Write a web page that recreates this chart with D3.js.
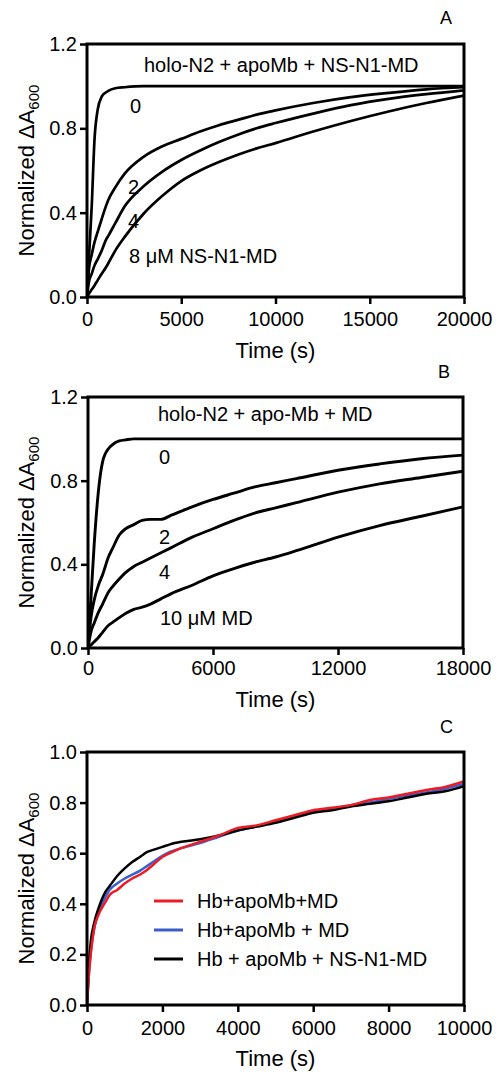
<!DOCTYPE html>
<html>
<head>
<meta charset="utf-8">
<script src="https://cdn.jsdelivr.net/npm/d3@7"></script>
<style>
  html, body { margin: 0; padding: 0; background: #fff; }
  svg { display: block; }
  text { font-family: "Liberation Sans", Arial, sans-serif; fill: #000; }
</style>
</head>
<body>
<svg id="chart" width="496" height="1073"></svg>
<script>
// ---- Panel A: holo-N2 + apoMb + NS-N1-MD (time in s, normalized dA600)
const timesA = [0, 100, 250, 400, 570, 780, 1000, 1130, 1500, 2000, 3000, 4000, 5000,
                6000, 7000, 8000, 9000, 10000, 12000, 14000, 16000, 18000, 20000];
const a0 = [0, 0.18, 0.43, 0.75, 0.89, 0.95, 0.97, 0.978, 0.99, 0.995, 1, 1, 1,
            1, 1, 1, 1, 1, 1, 1, 1, 1, 1];
const a2 = [0, 0.13, 0.2, 0.26, 0.31, 0.37, 0.43, 0.46, 0.52, 0.585, 0.665, 0.715, 0.75,
            0.785, 0.815, 0.84, 0.865, 0.885, 0.92, 0.948, 0.968, 0.985, 0.995];
const a4 = [0, 0.07, 0.11, 0.15, 0.18, 0.22, 0.27, 0.29, 0.35, 0.43, 0.525, 0.595, 0.65,
            0.695, 0.735, 0.77, 0.8, 0.825, 0.87, 0.91, 0.94, 0.962, 0.98];
const a8 = [0, 0.015, 0.035, 0.055, 0.08, 0.11, 0.14, 0.16, 0.22, 0.285, 0.395, 0.48, 0.55,
            0.6, 0.64, 0.675, 0.705, 0.73, 0.785, 0.835, 0.88, 0.92, 0.955];
const ticksXA = [0, 5000, 10000, 15000, 20000];
const ticksYA = [0, 0.4, 0.8, 1.2];

// ---- Panel B: holo-N2 + apo-Mb + MD
const timesB = [0, 150, 300, 500, 700, 1000, 1150, 1500, 1800, 2200, 2600, 3000, 3500,
                4000, 5000, 6000, 7000, 8000, 9000, 10000, 12000, 14000, 16000, 18000];
const b0 = [0, 0.25, 0.5, 0.75, 0.89, 0.955, 0.97, 0.99, 0.995, 1, 1, 1, 1,
            1, 1, 1, 1, 1, 1, 1, 1, 1, 1, 1];
const b2 = [0, 0.15, 0.23, 0.3, 0.35, 0.44, 0.47, 0.54, 0.57, 0.59, 0.61, 0.615, 0.615,
            0.635, 0.675, 0.71, 0.74, 0.77, 0.79, 0.81, 0.85, 0.88, 0.905, 0.922];
const b4 = [0, 0.08, 0.12, 0.17, 0.21, 0.27, 0.29, 0.33, 0.36, 0.39, 0.41, 0.43, 0.455,
            0.48, 0.53, 0.57, 0.61, 0.645, 0.67, 0.695, 0.745, 0.785, 0.815, 0.845];
const b10 = [0, 0.015, 0.03, 0.05, 0.075, 0.11, 0.12, 0.145, 0.165, 0.185, 0.195, 0.21, 0.235,
             0.26, 0.3, 0.345, 0.38, 0.41, 0.435, 0.465, 0.53, 0.585, 0.63, 0.675];
const ticksXB = [0, 6000, 12000, 18000];
const ticksYB = [0, 0.4, 0.8, 1.2];

// ---- Panel C: Hb + apoMb comparisons
const timesC = [0, 50, 100, 200, 300, 400, 500, 600, 800, 1000, 1200, 1400, 1600, 1800, 2000,
                2200, 2500, 3000, 3500, 4000, 4500, 5000, 5500, 6000, 6500, 7000, 7500,
                8000, 8500, 9000, 9500, 10000];
const cRed = [0, 0.12, 0.2, 0.31, 0.355, 0.385, 0.41, 0.435, 0.455, 0.48, 0.5, 0.515, 0.535,
              0.56, 0.585, 0.6, 0.62, 0.645, 0.67, 0.7, 0.71, 0.73, 0.75, 0.77, 0.78, 0.79,
              0.81, 0.82, 0.835, 0.85, 0.862, 0.885];
const cBlue = [0, 0.12, 0.21, 0.31, 0.36, 0.4, 0.43, 0.455, 0.48, 0.5, 0.515, 0.53, 0.55,
               0.57, 0.59, 0.605, 0.62, 0.64, 0.665, 0.69, 0.705, 0.725, 0.745, 0.765, 0.775,
               0.79, 0.8, 0.815, 0.828, 0.84, 0.855, 0.875];
const cBlack = [0, 0.16, 0.25, 0.33, 0.38, 0.42, 0.45, 0.47, 0.51, 0.54, 0.565, 0.585, 0.605,
                0.615, 0.625, 0.635, 0.645, 0.655, 0.67, 0.69, 0.705, 0.72, 0.74, 0.76, 0.77,
                0.785, 0.795, 0.805, 0.82, 0.835, 0.845, 0.865];
const legendC = ["Hb+apoMb+MD", "Hb+apoMb + MD", "Hb + apoMb + NS-N1-MD"];
const coloursC = ["#ed1c24", "#3a5fcd", "#000000"];
const ticksXC = [0, 2000, 4000, 6000, 8000, 10000];
const ticksYC = [0, 0.2, 0.4, 0.6, 0.8, 1.0];

const svg = d3.select('#chart');

function zip(ts, vs) { return ts.map((t, i) => [t, vs[i]]); }

function panel(cfg) {
  const x = d3.scaleLinear().domain(cfg.xDomain).range([cfg.left, cfg.right]);
  const y = d3.scaleLinear().domain(cfg.yDomain).range([cfg.bottom, cfg.top]);
  const g = svg.append('g');

  const id = 'clip' + cfg.letter;
  svg.append('clipPath').attr('id', id)
    .append('rect')
      .attr('x', cfg.left).attr('y', cfg.top - 10)
      .attr('width', cfg.right - cfg.left).attr('height', cfg.bottom - cfg.top + 10);

  const line = d3.line()
    .x(d => x(d[0]))
    .y(d => y(d[1]))
    .curve(d3.curveMonotoneX);

  g.append('g').attr('clip-path', `url(#${id})`)
    .selectAll('path')
    .data(cfg.series)
    .enter().append('path')
      .attr('d', s => line(zip(s.t, s.v)))
      .attr('fill', 'none')
      .attr('stroke', s => s.colour || '#000')
      .attr('stroke-width', cfg.lineWidth)
      .attr('stroke-linejoin', 'round');

  // Axes: ticks only, the frame is a separate rect.
  const yAxis = g.append('g')
    .attr('transform', `translate(${cfg.left},0)`)
    .call(d3.axisLeft(y).tickValues(cfg.yTicks).tickSize(7).tickPadding(3)
      .tickFormat(d3.format('.1f')));
  const xAxis = g.append('g')
    .attr('transform', `translate(0,${cfg.bottom})`)
    .call(d3.axisBottom(x).tickValues(cfg.xTicks).tickSize(7).tickPadding(cfg.xPad)
      .tickFormat(d3.format('d')));
  [yAxis, xAxis].forEach(ax => {
    ax.select('.domain').remove();
    ax.selectAll('line').attr('stroke', '#000').attr('stroke-width', 2.5);
    ax.selectAll('text')
      .style('font-family', '"Liberation Sans", Arial, sans-serif')
      .style('font-size', '20px')
      .attr('fill', '#000');
  });

  g.append('rect')
    .attr('x', cfg.left).attr('y', cfg.top)
    .attr('width', cfg.right - cfg.left).attr('height', cfg.bottom - cfg.top)
    .attr('fill', 'none').attr('stroke', '#000').attr('stroke-width', 3);

  // Axis titles
  g.append('text')
    .attr('x', (cfg.left + cfg.right) / 2).attr('y', cfg.xTitleY)
    .attr('text-anchor', 'middle')
    .style('font-size', '22px')
    .text('Time (s)');

  const yt = g.append('text')
    .attr('transform', `translate(34,${(cfg.top + cfg.bottom) / 2}) rotate(-90)`)
    .attr('text-anchor', 'middle')
    .style('font-size', '22px');
  yt.append('tspan').text('Normalized  ΔA');
  yt.append('tspan').attr('dy', 5).style('font-size', '15px').text('600');

  g.append('text')
    .attr('x', cfg.letterX).attr('y', cfg.letterY)
    .style('font-size', '18px')
    .text(cfg.letter);

  g.selectAll('text.note')
    .data(cfg.notes)
    .enter().append('text')
      .attr('class', 'note')
      .attr('x', d => d.x).attr('y', d => d.y)
      .style('font-size', '20px')
      .text(d => d.text);

  return { g, x, y };
}

panel({
  letter: 'A', letterX: 440, letterY: 24,
  left: 87, right: 464, top: 44, bottom: 297,
  xDomain: [0, 20000], yDomain: [0, 1.2],
  xTicks: ticksXA, yTicks: ticksYA, xPad: 8, xTitleY: 358,
  lineWidth: 2.7,
  series: [{ t: timesA, v: a0 }, { t: timesA, v: a2 }, { t: timesA, v: a4 }, { t: timesA, v: a8 }],
  notes: [
    { x: 144, y: 72, text: 'holo-N2 + apoMb + NS-N1-MD' },
    { x: 130, y: 113, text: '0' },
    { x: 128, y: 194, text: '2' },
    { x: 128, y: 228, text: '4' },
    { x: 129, y: 263, text: '8 μM NS-N1-MD' }
  ]
});

panel({
  letter: 'B', letterX: 438, letterY: 378,
  left: 88, right: 463, top: 397, bottom: 648,
  xDomain: [0, 18000], yDomain: [0, 1.2],
  xTicks: ticksXB, yTicks: ticksYB, xPad: 6, xTitleY: 707,
  lineWidth: 2.9,
  series: [{ t: timesB, v: b0 }, { t: timesB, v: b2 }, { t: timesB, v: b4 }, { t: timesB, v: b10 }],
  notes: [
    { x: 158, y: 421, text: 'holo-N2 + apo-Mb + MD' },
    { x: 159, y: 464, text: '0' },
    { x: 159, y: 544, text: '2' },
    { x: 159, y: 579, text: '4' },
    { x: 160, y: 625, text: '10 μM MD' }
  ]
});

const pc = panel({
  letter: 'C', letterX: 440, letterY: 733,
  left: 87, right: 464, top: 752, bottom: 1005,
  xDomain: [0, 10000], yDomain: [0, 1.0],
  xTicks: ticksXC, yTicks: ticksYC, xPad: 9, xTitleY: 1066,
  lineWidth: 2.5,
  series: [
    { t: timesC, v: cBlue, colour: coloursC[1] },
    { t: timesC, v: cBlack, colour: coloursC[2] },
    { t: timesC, v: cRed, colour: coloursC[0] }
  ],
  notes: []
});

// Legend for panel C
const leg = pc.g.append('g').selectAll('g')
  .data(legendC)
  .enter().append('g')
    .attr('transform', (d, i) => `translate(154,${901 + i * 29})`);
leg.append('line')
  .attr('x1', 0).attr('x2', 29)
  .attr('stroke', (d, i) => coloursC[i])
  .attr('stroke-width', 3);
leg.append('text')
  .attr('x', 43).attr('y', 7)
  .style('font-size', '20px')
  .text(d => d);
</script>
</body>
</html>
